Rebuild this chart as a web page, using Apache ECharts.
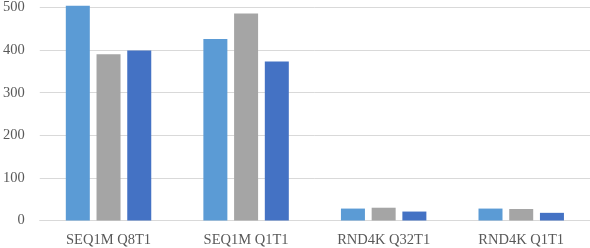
<!DOCTYPE html>
<html><head><meta charset="utf-8">
<script src="https://cdn.jsdelivr.net/npm/echarts@6/dist/echarts.min.js"></script>
<style>html,body{margin:0;padding:0;background:#fff}#c{width:590px;height:248px}</style>
</head><body><div id="c"></div>
<script>
const categories = ["SEQ1M Q8T1", "SEQ1M Q1T1", "RND4K Q32T1", "RND4K Q1T1"];
const seriesA = [504, 426, 28, 28];
const seriesB = [390, 486, 30, 27];
const seriesC = [399, 373, 21, 18];
const yTicks = [0, 100, 200, 300, 400, 500];

const chart = echarts.init(document.getElementById('c'), null, {renderer: 'canvas'});
const font = {fontFamily: 'Liberation Serif', fontSize: 14.5, color: '#595959'};
chart.setOption({
  animation: false,
  grid: {left: 35.5, right: 0, top: 5, bottom: 26, containLabel: false},
  xAxis: {
    type: 'category', data: categories,
    axisLine: {lineStyle: {color: '#d9d9d9'}},
    axisTick: {show: false},
    axisLabel: Object.assign({margin: 12.5}, font)
  },
  yAxis: {
    type: 'value', min: yTicks[0], max: yTicks[yTicks.length - 1], interval: 100,
    axisLine: {show: false}, axisTick: {show: false},
    splitLine: {lineStyle: {color: '#d9d9d9'}},
    axisLabel: Object.assign({margin: 15}, font)
  },
  series: [
    {type: 'bar', data: seriesA, barWidth: 24, barGap: '28%', clip: false, itemStyle: {color: '#5B9BD5'}},
    {type: 'bar', data: seriesB, barWidth: 24, barGap: '28%', clip: false, itemStyle: {color: '#A5A5A5'}},
    {type: 'bar', data: seriesC, barWidth: 24, barGap: '28%', clip: false, itemStyle: {color: '#4472C4'}}
  ]
});
</script></body></html>
